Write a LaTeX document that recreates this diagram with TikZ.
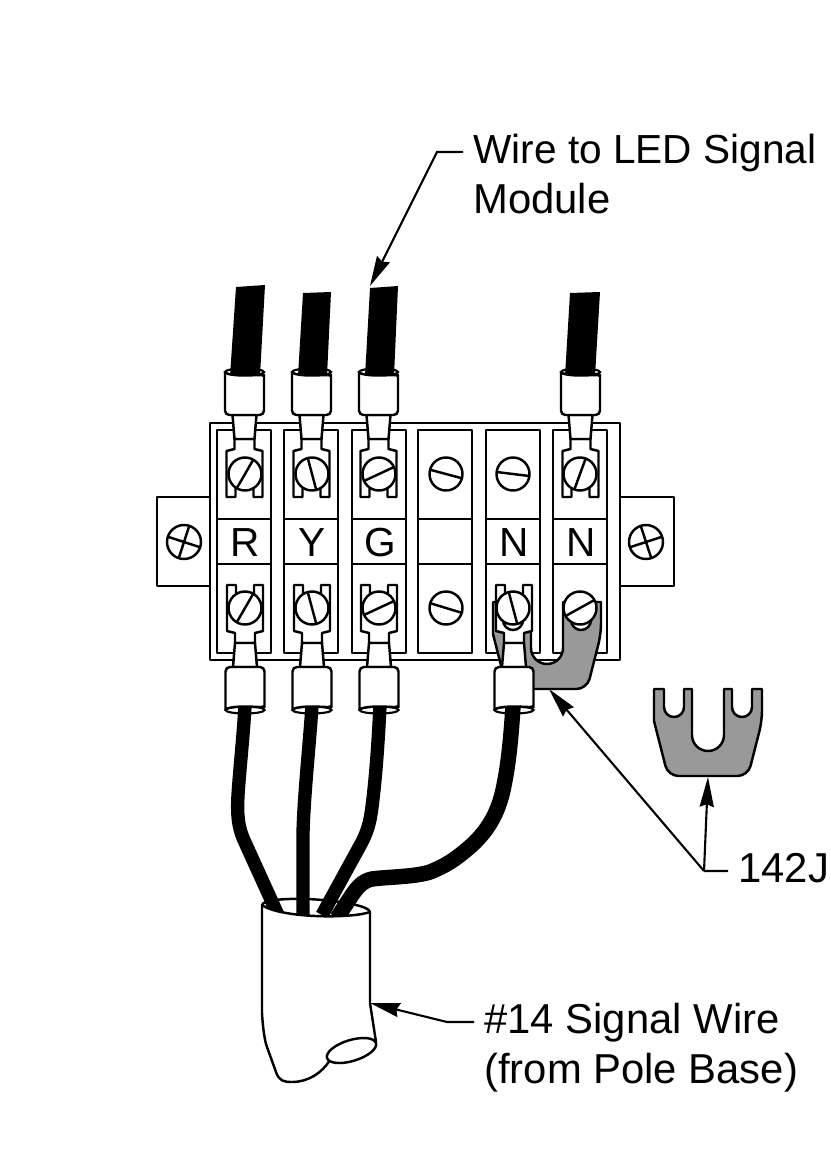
\documentclass[tikz,border=0pt]{standalone}
\usepackage{fontspec}
\setmainfont{Liberation Sans}
\usetikzlibrary{arrows.meta}
\definecolor{jumpergray}{HTML}{999999}
\tikzset{
  part/.style={draw=black,line width=1.4pt,fill=white,line join=round},
  slotline/.style={draw=black,line width=1.4pt},
  wirefill/.style={fill=black,draw=none},
  wirerun/.style={draw=black,line width=7.6pt},
  jumperpart/.style={draw=black,line width=1.4pt,fill=jumpergray,line join=round},
  leaderline/.style={draw=black,line width=1.2pt},
  leaderarrow/.style={leaderline,-{Stealth[length=17pt,width=8pt,inset=1.5pt]}},
  lbltext/.style={font=\fontsize{23.8}{28}\selectfont,inner xsep=5.7pt,inner ysep=0pt,text height=16.6pt,text depth=4pt,anchor=base west},
  lettertext/.style={font=\fontsize{23.1}{28}\selectfont,inner sep=0pt,anchor=base}
}
% screw: x, y, slot angle
\newcommand{\screw}[3]{
\draw [part,shift={(#1,#2)}] (0,0) circle (16.5);
\draw [slotline,shift={(#1,#2)}] (#3:16.5) -- (#3+180:16.5);
}
% side screw with a cross
\newcommand{\crossscrew}[3]{
\draw [part,shift={(#1,#2)}] (0,0) circle (17);
\draw [slotline,shift={(#1,#2)}] (#3:17) -- (#3+180:17);
\draw [slotline,shift={(#1,#2)}] (#3+90:17) -- (#3+270:17);
}
% one bay of the block
\newcommand{\bay}[1]{
\draw [part] (#1-27,-430) rectangle (#1+27,-653);
\draw [slotline] (#1-27,-519) -- (#1+27,-519);
\draw [slotline] (#1-27,-564) -- (#1+27,-564);
}
% crimp lug: x, flip (1 upper, -1 lower)
\newcommand{\lug}[2]{
\begin{scope}[shift={(#1,-541)},yscale=#2]
\draw [part] (-18,44) -- (-18,90) -- (-10,92) -- (-10,102) -- (10,102) -- (10,92) -- (18,90) -- (18,44) -- (9,44) -- (9,56) -- (-9,56) -- (-9,44) -- cycle;
\draw [part] (-12,126) -- (-10,102) -- (10,102) -- (12,126) -- cycle;
\draw [slotline,line width=1.2pt] (0,169) ellipse [x radius=19.5,y radius=3.5];
\draw [part] (-19.5,169) [rounded corners=2.5pt] -- (-19.5,126) -- (19.5,126) -- (19.5,169) [sharp corners] arc [start angle=0,end angle=-180,x radius=19.5,y radius=3.5] -- cycle;
\end{scope}
}
% jumper: x, y of its top edge
\newcommand{\jumper}[2]{
\draw [jumperpart,shift={(#1,#2)}] (-54,0) -- (-54,-32) [rounded corners=6pt] -- (-40,-87) -- (40,-87) -- (54,-32) [sharp corners] -- (54,0) -- (44,0) -- (44,-18) arc [start angle=0,end angle=-180,radius=10] -- (24,0) -- (16,0) -- (16,-46) arc [start angle=0,end angle=-180,radius=16] -- (-16,0) -- (-24,0) -- (-24,-18) arc [start angle=0,end angle=-180,radius=10] -- (-44,0) -- cycle;
}
\begin{document}
\begin{tikzpicture}[x=0.02cm,y=0.02cm]
\useasboundingbox (0,0) rectangle (831,-1163);
% side tabs and block
\draw [part] (157,-497) rectangle (210,-586);
\draw [part] (620,-497) rectangle (674,-586);
\draw [part] (210,-423) rectangle (620,-660);
\crossscrew{184}{-542}{-18}
\crossscrew{646}{-542}{18}
\bay{244}
\bay{311}
\bay{379}
\bay{445}
\bay{513}
\bay{580}
\node [lettertext] (lblR) at (245,-556) {R};
\node [lettertext] (lblY) at (312,-556) {Y};
\node [lettertext] (lblG) at (380,-556) {G};
\node [lettertext] (lblNa) at (514,-556) {N};
\node [lettertext] (lblNb) at (581,-556) {N};
% jumpers
\jumper{547}{-602}
\jumper{708}{-689}
% upper wires
\fill [wirefill] (236,-287) -- (265,-285) -- (260,-376) -- (230,-376) -- cycle;
\fill [wirefill] (303,-293) -- (331,-292) -- (327,-376) -- (298,-376) -- cycle;
\fill [wirefill] (370,-288) -- (398,-286) -- (394,-376) -- (365,-376) -- cycle;
\fill [wirefill] (570,-293) -- (600,-292) -- (595,-376) -- (565,-376) -- cycle;
% lower wires, conduit rim behind them
\draw [part] (316,-908.5) ellipse [x radius=54,y radius=9,rotate=-3.7];
\draw [wirerun] (245,-706) .. controls (243,-740) and (240,-765) .. (238,-795) .. controls (237,-815) and (238,-825) .. (243,-838) -- (278,-915);
\draw [wirerun] (312,-706) .. controls (309,-750) and (304,-795) .. (303,-833) -- (303,-915);
\draw [wirerun] (380,-706) .. controls (378,-745) and (376,-775) .. (372,-807) .. controls (370,-822) and (368,-830) .. (362,-842) -- (322,-915);
\draw [wirerun,line width=8.8pt] (513,-706) .. controls (511,-740) and (508,-765) .. (505,-780) .. controls (500,-810) and (490,-828) .. (472,-845) .. controls (455,-860) and (445,-866) .. (430,-872) .. controls (415,-877) and (385,-877) .. (372,-879) .. controls (362,-881) and (357,-888) .. (352,-895) -- (337,-918);
% lugs and screws
\lug{244.5}{1}
\lug{311.5}{1}
\lug{378.5}{1}
\lug{580.5}{1}
\lug{245}{-1}
\lug{312}{-1}
\lug{379}{-1}
\lug{514}{-1}
\screw{245}{-474}{60}
\screw{312}{-474}{105}
\screw{379}{-474}{25}
\screw{446}{-474}{-15}
\screw{513}{-474}{-7}
\screw{580}{-474}{70}
\screw{245}{-608}{60}
\screw{312}{-608}{105}
\screw{379}{-608}{25}
\screw{446}{-608}{-17}
\draw [slotline] (503,-620) arc [start angle=-180,end angle=0,radius=10];
\screw{513}{-608}{105}
\screw{580}{-608}{29}
% conduit
\draw [part] (262,-905) -- (262,-1013) .. controls (263,-1030) and (265,-1042) .. (267,-1047) -- (276,-1072) .. controls (279,-1081) and (284,-1082) .. (292,-1082) .. controls (308,-1082) and (322,-1073) .. (330,-1060) -- (376,-1042) -- (370,-1003) -- (370,-912) .. controls (350,-919) and (280,-918) .. (262,-905) -- cycle;
\draw [part] (351.5,-1050.5) ellipse [x radius=25.6,y radius=10.5,rotate=17];
% labels and leaders
\node [lbltext,font=\fontsize{23.1}{28}\selectfont] (lblWire) at (463,-163) {Wire to LED Signal};
\node [lbltext] (lblModule) at (463,-213) {Module};
\node [lbltext] (lblJ) at (728,-882) {142J};
\node [lbltext] (lblSignal) at (474,-1033) {\#14 Signal Wire};
\node [lbltext] (lblBase) at (474,-1083) {(from Pole Base)};
\coordinate (bendWire) at (437,-152);
\coordinate (tipWire) at (370,-286);
\coordinate (bendJ) at (704,-871);
\coordinate (tipJa) at (549,-689);
\coordinate (tipJb) at (708,-777);
\coordinate (bendSignal) at (447,-1022);
\coordinate (tipSignal) at (370,-1003);
\draw [leaderarrow] (lblWire.west) -- (bendWire) -- (tipWire);
\draw [leaderline] (lblJ.west) -- (bendJ);
\draw [leaderarrow] (bendJ) -- (tipJa);
\draw [leaderarrow] (bendJ) -- (tipJb);
\draw [leaderarrow] (lblSignal.west) -- (bendSignal) -- (tipSignal);
\end{tikzpicture}
\end{document}
